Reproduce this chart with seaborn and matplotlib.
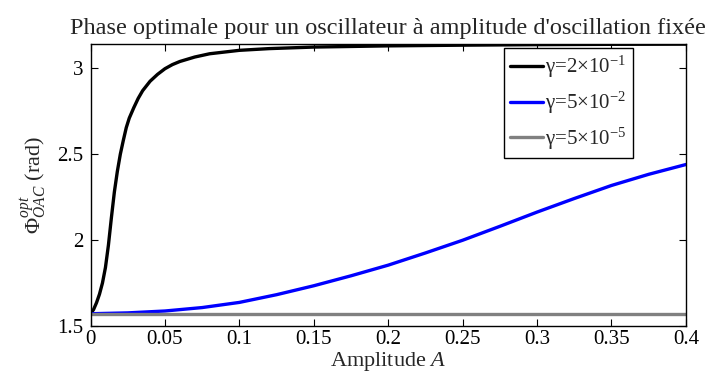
import numpy as np
import pandas as pd
import matplotlib
matplotlib.use('Agg')
import matplotlib.pyplot as plt
import seaborn as sns

# values
amp_black = [0, 0.002, 0.004, 0.006, 0.008, 0.010, 0.012, 0.014, 0.016, 0.018, 0.02,
             0.022, 0.024, 0.026, 0.029, 0.032, 0.035, 0.04, 0.045, 0.05,
             0.055, 0.06, 0.07, 0.08, 0.1, 0.12, 0.15, 0.2, 0.25, 0.3, 0.35, 0.4]
phi_black = [1.571, 1.595, 1.635, 1.685, 1.75, 1.84, 1.97, 2.13, 2.28, 2.40, 2.50,
             2.58, 2.655, 2.71, 2.77, 2.825, 2.87, 2.925, 2.965, 2.998,
             3.022, 3.04, 3.066, 3.085, 3.105, 3.115, 3.124, 3.131, 3.135, 3.138, 3.140, 3.141]

amp_blue = [0, 0.025, 0.05, 0.075, 0.1, 0.125, 0.15, 0.175, 0.2, 0.225, 0.25,
            0.275, 0.3, 0.325, 0.35, 0.375, 0.4]
phi_blue = [1.571, 1.576, 1.587, 1.607, 1.637, 1.682, 1.734, 1.792, 1.854, 1.925, 1.999,
            2.08, 2.163, 2.242, 2.318, 2.383, 2.44]

amp_gray = [0, 0.4]
phi_gray = [1.5708, 1.5708]

labels = ['γ=2×10$^{-1}$', 'γ=5×10$^{-2}$', 'γ=5×10$^{-5}$']
colors = ['black', '#0000ff', '#808080']

xticks = [0, 0.05, 0.1, 0.15, 0.2, 0.25, 0.3, 0.35, 0.4]
xticklabels = ['0', '0.05', '0.1', '0.15', '0.2', '0.25', '0.3', '0.35', '0.4']
yticks = [1.5, 2, 2.5, 3]
yticklabels = ['1.5', '2', '2.5', '3']

df = pd.concat([
    pd.DataFrame({'A': amp_black, 'phi': phi_black, 'g': labels[0]}),
    pd.DataFrame({'A': amp_blue, 'phi': phi_blue, 'g': labels[1]}),
    pd.DataFrame({'A': amp_gray, 'phi': phi_gray, 'g': labels[2]}),
])

sns.set_theme(style='ticks')
plt.rcParams['font.family'] = ['Liberation Serif', 'DejaVu Serif']
plt.rcParams['mathtext.fontset'] = 'custom'
plt.rcParams['mathtext.rm'] = 'Liberation Serif'
plt.rcParams['mathtext.it'] = 'Liberation Serif:italic'
plt.rcParams['mathtext.bf'] = 'Liberation Serif:bold'

fig = plt.figure(figsize=(7.13, 3.83), dpi=100)
ax = fig.add_axes([0.127, 0.149, 0.835, 0.736])

sns.lineplot(data=df, x='A', y='phi', hue='g', palette=colors, linewidth=2.4,
             ax=ax, sort=False, estimator=None)

ax.set_xlim(0, 0.4)
ax.set_ylim(1.5, np.pi)
ax.set_xticks(xticks)
ax.set_xticklabels(xticklabels)
ax.set_yticks(yticks)
ax.set_yticklabels(yticklabels)
ax.tick_params(direction='in', top=True, right=True, length=5, width=0.8,
               labelsize=15, colors='black')
ax.tick_params(axis='x', pad=3)
ax.tick_params(axis='y', pad=5)
for s in ax.spines.values():
    s.set_color('black')
    s.set_linewidth(1.0)

ax.set_title("Phase optimale pour un oscillateur à amplitude d'oscillation fixée",
             fontsize=17.5, pad=7)
ax.set_xlabel(r'Amplitude $A$', fontsize=16, labelpad=1)
ax.set_ylabel(r'$\Phi^{opt}_{OAC}$ (rad)', fontsize=16, labelpad=6)

leg = ax.legend(loc='upper right', bbox_to_anchor=(0.911, 0.986), fontsize=15,
                handlelength=1.6, handletextpad=0.1, borderpad=0.3,
                labelspacing=0.45, fancybox=False, framealpha=1,
                edgecolor='black', borderaxespad=0)
leg.get_frame().set_linewidth(1.0)
for line in leg.get_lines():
    line.set_linewidth(2.4)

fig.savefig('out.png', dpi=100)
